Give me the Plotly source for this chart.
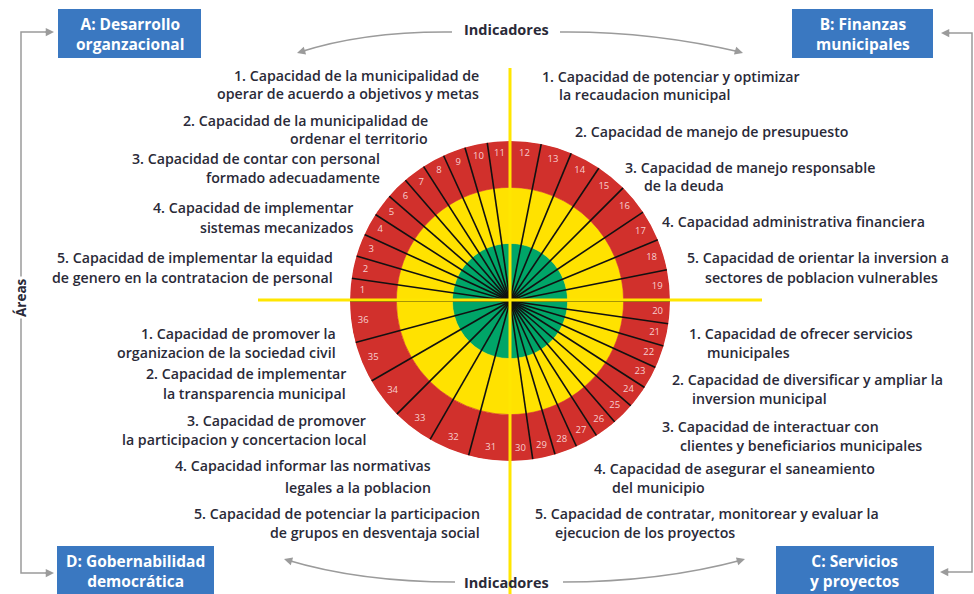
import plotly.graph_objects as go

W, H = 974, 594

# ---------------- data ----------------
area_titles = ["A: Desarrollo<br>organzacional", "B: Finanzas<br>municipales",
               "C: Servicios<br>y proyectos", "D: Gobernabilidad<br>democrática"]
indicators_per_area = [11, 8, 11, 6]          # wheel segments per quadrant (1-11, 12-19, 20-30, 31-36)
ring_levels = [0.36, 0.71, 1.0]               # outer edge of green, yellow, red rings
ring_colors = ["#00a568", "#ffe200", "#d1302c"]

capacidades_A = [["1. Capacidad de la municipalidad de", "operar de acuerdo a objetivos y metas"],
                 ["2. Capacidad de la municipalidad de", "ordenar el territorio"],
                 ["3. Capacidad de contar con personal", "formado adecuadamente"],
                 ["4. Capacidad de implementar", "sistemas mecanizados"],
                 ["5. Capacidad de implementar la equidad", "de genero en la contratacion de personal"]]
capacidades_B = [["1. Capacidad de potenciar y optimizar", "la recaudacion municipal"],
                 ["2. Capacidad de manejo de presupuesto"],
                 ["3. Capacidad de manejo responsable", "de la deuda"],
                 ["4. Capacidad administrativa financiera"],
                 ["5. Capacidad de orientar la inversion a", "sectores de poblacion vulnerables"]]
capacidades_C = [["1. Capacidad de ofrecer servicios", "municipales"],
                 ["2. Capacidad de diversificar y ampliar la", "inversion municipal"],
                 ["3. Capacidad de interactuar con", "clientes y beneficiarios municipales"],
                 ["4. Capacidad de asegurar el saneamiento", "del municipio"],
                 ["5. Capacidad de contratar, monitorear y evaluar la", "ejecucion de los proyectos"]]
capacidades_D = [["1. Capacidad de promover la", "organizacion de la sociedad civil"],
                 ["2. Capacidad de implementar", "la transparencia municipal"],
                 ["3. Capacidad de promover", "la participacion y concertacion local"],
                 ["4. Capacidad informar las normativas", "legales a la poblacion"],
                 ["5. Capacidad de potenciar la participacion", "de grupos en desventaja social"]]
label_indicadores = "Indicadores"
label_areas = "Áreas"

# ---------------- layout helpers (pixel placement) ----------------
CX, CY, R = 510, 301, 160
FONT = "Open Sans, Liberation Sans, sans-serif"
TXT = "#2a2a38"
GRAY = "#9b9b9b"
BLUE = "#3a78c1"
YEL = "#ffe600"

# segments
thetas, widths, numbers, bounds = [], [], [], []
k = 1
for q, n in enumerate(indicators_per_area):
    w = 90.0 / n
    for i in range(n):
        thetas.append(q * 90 + (i + 0.5) * w)
        widths.append(w)
        numbers.append(str(k))
        bounds.append(q * 90 + i * w)
        k += 1
N = len(thetas)

fig = go.Figure()
bases = [0] + ring_levels[:-1]
for b, t, c in zip(bases, ring_levels, ring_colors):
    fig.add_trace(go.Barpolar(r=[t - b] * N, base=[b] * N, theta=thetas, width=widths,
                              marker=dict(color=c, line=dict(color=c, width=0.6)),
                              hoverinfo="skip", showlegend=False))
lr, lt = [], []
for bd in bounds:
    lr += [0, ring_levels[-1], None]
    lt += [bd, bd, None]
fig.add_trace(go.Scatterpolar(r=lr, theta=lt, mode="lines", line=dict(color="#111", width=1.6),
                              hoverinfo="skip", showlegend=False))
fig.add_trace(go.Scatterpolar(r=[0.925] * N, theta=thetas, mode="text", text=numbers,
                              textfont=dict(family=FONT, size=9.5, color="#f6cfcf"),
                              hoverinfo="skip", showlegend=False))
# invisible trace to create pixel-coordinate axes
fig.add_trace(go.Scatter(x=[], y=[], showlegend=False))

shapes = []
ann = []

# yellow cross
shapes.append(dict(type="line", x0=258, x1=762, y0=CY - 1, y1=CY - 1, line=dict(color=YEL, width=3), layer="above"))
shapes.append(dict(type="line", x0=CX, x1=CX, y0=68, y1=600, line=dict(color=YEL, width=3), layer="above"))

# area boxes
boxes = [(58, 201, 9, 58), (792, 933, 9, 58), (776, 934, 546, 600), (57, 214, 546, 600)]
for (x0, x1, y0, y1), t in zip(boxes, area_titles):
    shapes.append(dict(type="rect", x0=x0, x1=x1, y0=y0, y1=y1, fillcolor=BLUE, line=dict(width=0)))
    ym = (y0 + y1) / 2 if y1 < 594 else y0 + 25
    ann.append(dict(x=(x0 + x1) / 2, y=ym, text="<b>" + t + "</b>", showarrow=False,
                    font=dict(family=FONT, size=15.5, color="white"), xanchor="center", yanchor="middle"))

# brackets
shapes.append(dict(type="path", path="M 50 32 L 21 32 L 21 573 L 50 573", line=dict(color=GRAY, width=1.5)))
shapes.append(dict(type="path", path="M 946 33 L 972 33 L 972 572 L 944 572", line=dict(color=GRAY, width=1.5)))
for x, y, ax in [(54, 32, 44), (54, 573, 44), (941, 33, 951), (940, 572, 950)]:
    ann.append(dict(x=x, y=y, ax=ax, ay=y, axref="x", ayref="y", text="", showarrow=True,
                    arrowhead=2, arrowsize=1.1, arrowwidth=1.5, arrowcolor=GRAY))
ann.append(dict(x=21, y=298, text="<b>" + label_areas + "</b>", textangle=-90, showarrow=False,
                bgcolor="white", font=dict(family=FONT, size=13.5, color=TXT)))
ann.append(dict(x=980, y=298, text="<b>" + label_areas + "</b>", textangle=90, showarrow=False,
                bgcolor="white", font=dict(family=FONT, size=13.5, color=TXT)))

# Indicadores arcs
shapes.append(dict(type="path", path="M 452 32 Q 365 31 300 52", line=dict(color=GRAY, width=1.5)))
shapes.append(dict(type="path", path="M 560 32 Q 650 31 740 52", line=dict(color=GRAY, width=1.5)))
shapes.append(dict(type="path", path="M 455 582 Q 360 582 287 560", line=dict(color=GRAY, width=1.5)))
shapes.append(dict(type="path", path="M 563 582 Q 660 582 742 560", line=dict(color=GRAY, width=1.5)))
for x, y, ax, ay in [(297, 53, 307, 50), (743, 53, 733, 50), (284, 559, 294, 562), (745, 559, 735, 562)]:
    ann.append(dict(x=x, y=y, ax=ax, ay=ay, axref="x", ayref="y", text="", showarrow=True,
                    arrowhead=2, arrowsize=1.1, arrowwidth=1.5, arrowcolor=GRAY))
for y in [29, 582]:
    ann.append(dict(x=506, y=y, text="<b>" + label_indicadores + "</b>", showarrow=False,
                    font=dict(family=FONT, size=14.5, color=TXT)))

# indicator text placement: (x first line, x second line, y first, y second)
place_A = [(481, 481, 75, 93), (430, 430, 120, 138), (382, 382, 158, 177), (355, 355, 207, 227), (335, 335, 257, 277)]
place_B = [(540, 557, 76, 94), (573, 573, 131, 0), (623, 642, 167, 185), (660, 660, 221, 0), (685, 703, 257, 277)]
place_C = [(687, 705, 333, 352), (670, 690, 379, 398), (660, 678, 426, 445), (592, 610, 468, 487), (533, 553, 513, 532)]
place_D = [(338, 338, 333, 352), (348, 348, 373, 393), (368, 368, 420, 439), (433, 433, 465, 487), (482, 482, 513, 532)]
for caps, places, anchor in [(capacidades_A, place_A, "right"), (capacidades_B, place_B, "left"),
                             (capacidades_C, place_C, "left"), (capacidades_D, place_D, "right")]:
    for lines, (x1, x2, y1, y2) in zip(caps, places):
        for j, line in enumerate(lines):
            ann.append(dict(x=x1 if j == 0 else x2, y=y1 if j == 0 else y2, text=line, showarrow=False,
                            xanchor=anchor, yanchor="middle",
                            font=dict(family=FONT, size=14.2, color=TXT, weight=600)))

fig.update_layout(
    width=W, height=H, margin=dict(l=0, r=0, t=0, b=0),
    paper_bgcolor="white", plot_bgcolor="rgba(0,0,0,0)",
    xaxis=dict(range=[0, W], visible=False, domain=[0, 1], fixedrange=True),
    yaxis=dict(range=[H, 0], visible=False, domain=[0, 1], fixedrange=True),
    polar=dict(domain=dict(x=[(CX - R) / W, (CX + R) / W], y=[(H - CY - R) / H, (H - CY + R) / H]),
               radialaxis=dict(visible=False, range=[0, 1]),
               angularaxis=dict(visible=False, direction="clockwise", rotation=180),
               bgcolor="rgba(0,0,0,0)"),
    shapes=shapes, annotations=ann, showlegend=False,
)
fig.write_html("out.html", config={"displayModeBar": False},
               post_script="document.body.style.margin='0';document.body.style.overflow='hidden';")
